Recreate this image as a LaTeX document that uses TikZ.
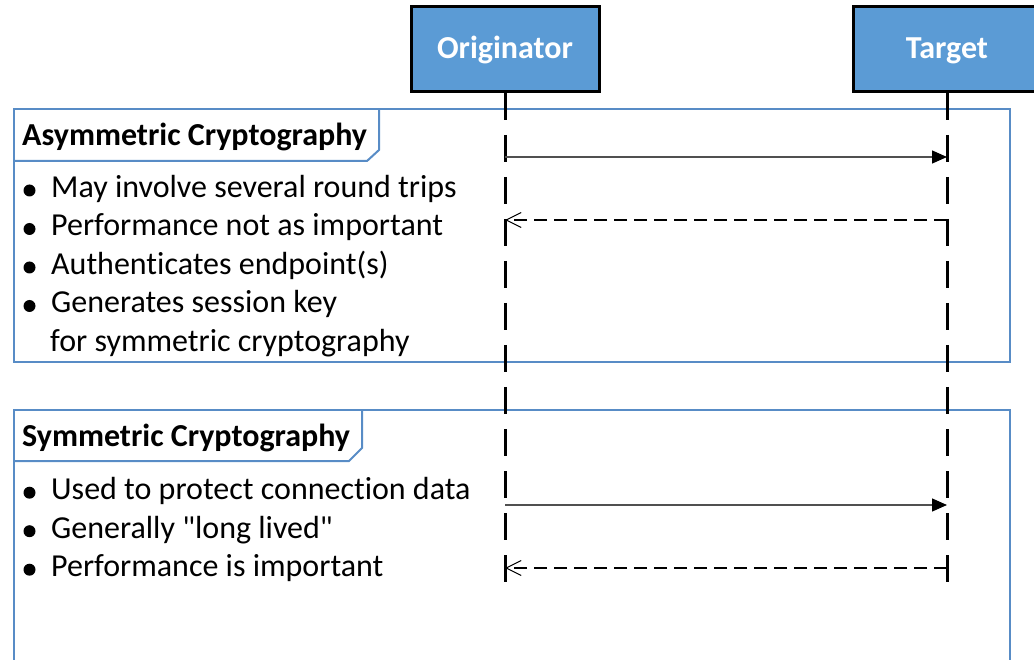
\documentclass[tikz,border=0pt]{standalone}
\usepackage{fontspec}
\setmainfont{Carlito}[Ligatures={TeXOff,NoCommon}]
\usetikzlibrary{arrows.meta}
\definecolor{headfill}{RGB}{91,155,213}
\definecolor{framecol}{RGB}{88,140,198}
\definecolor{msgcol}{RGB}{80,80,80}
\begin{document}
\begin{tikzpicture}[x=1pt,y=-1pt,
  font=\fontsize{32}{38.5}\selectfont,
  actor/.style={draw=black,line width=3pt,fill=headfill,minimum width=188pt,
    minimum height=85pt,inner sep=0pt,text=white,text height=26pt,text depth=6pt,
    font=\fontsize{32}{38}\selectfont\bfseries},
  lifeline/.style={draw=black,line width=3pt,dash pattern=on 27pt off 15pt},
  frameline/.style={draw=framecol,line width=2pt,line join=miter},
  item/.style={anchor=base west,inner sep=0pt},
  dot/.style={circle,fill=black,inner sep=0pt,minimum size=12pt},
  title/.style={anchor=base west,inner sep=0pt,font=\fontsize{32}{38}\selectfont\bfseries},
  sync/.style={draw=msgcol,line width=1.3pt,
    -{Triangle[length=15pt,width=13pt,color=black,fill=black]}},
  reply/.style={draw=black,line width=1.3pt,dash pattern=on 13pt off 7pt,
    -{Straight Barb[length=15pt,width=15pt,line width=1.1pt]}},
]
\useasboundingbox (0,0) rectangle (1034,660);

% combined fragments
\draw[frameline] (14,109) rectangle (1010,362);
\draw[frameline] (14,161) -- (367,161) -- (379,150) -- (379,109);
\draw[frameline] (14,690) -- (14,410) -- (1010,410) -- (1010,690);
\draw[frameline] (14,461) -- (349,461) -- (362,448) -- (362,410);

% fragment titles
\node[title] (asymT) at (22,146) {Asymmetric Cryptography};
\node[title] (symT) at (22,446.5) {Symmetric Cryptography};

% participants
\node[actor] (orig) at (505,49) {Originator};
\node[actor] (targ) at (947,49) {Target};
\coordinate (origEnd) at (505,582);
\coordinate (targEnd) at (947,582);
\draw[lifeline] (orig.south) -- (origEnd);
\draw[lifeline] (targ.south) -- (targEnd);

% message points on the lifelines
\coordinate (o1) at (505,157);
\coordinate (t1) at (947,157);
\coordinate (o2) at (505,220);
\coordinate (t2) at (947,220);
\coordinate (o3) at (505,505);
\coordinate (t3) at (947,505);
\coordinate (o4) at (505,568);
\coordinate (t4) at (947,568);

\draw[sync] (o1) -- (t1);
\draw[reply] (t2) -- (o2);
\draw[sync] (o3) -- (t3);
\draw[reply] (t4) -- (o4);

% asymmetric notes
\node[dot] (b1) at (29.5,190.5) {};
\node[item] (a1) at (51,197.3) {May involve several round trips};
\node[dot] (b2) at (29.5,229) {};
\node[item] (a2) at (51,235.8) {Performance not as important};
\node[dot] (b3) at (29.5,267.5) {};
\node[item] (a3) at (51,274.3) {Authenticates endpoint(s)};
\node[dot] (b4) at (29.5,306) {};
\node[item] (a4) at (51,312.8) {Generates session key};
\node[item] (a5) at (50,351.3) {for symmetric cryptography};

% symmetric notes
\node[dot] (b6) at (29.5,492.7) {};
\node[item] (s1) at (51,499.5) {Used to protect connection data};
\node[dot] (b7) at (29.5,531.2) {};
\node[item] (s2) at (51,538) {Generally "long lived"};
\node[dot] (b8) at (29.5,569.7) {};
\node[item] (s3) at (51,576.5) {Performance is important};
\end{tikzpicture}
\end{document}
